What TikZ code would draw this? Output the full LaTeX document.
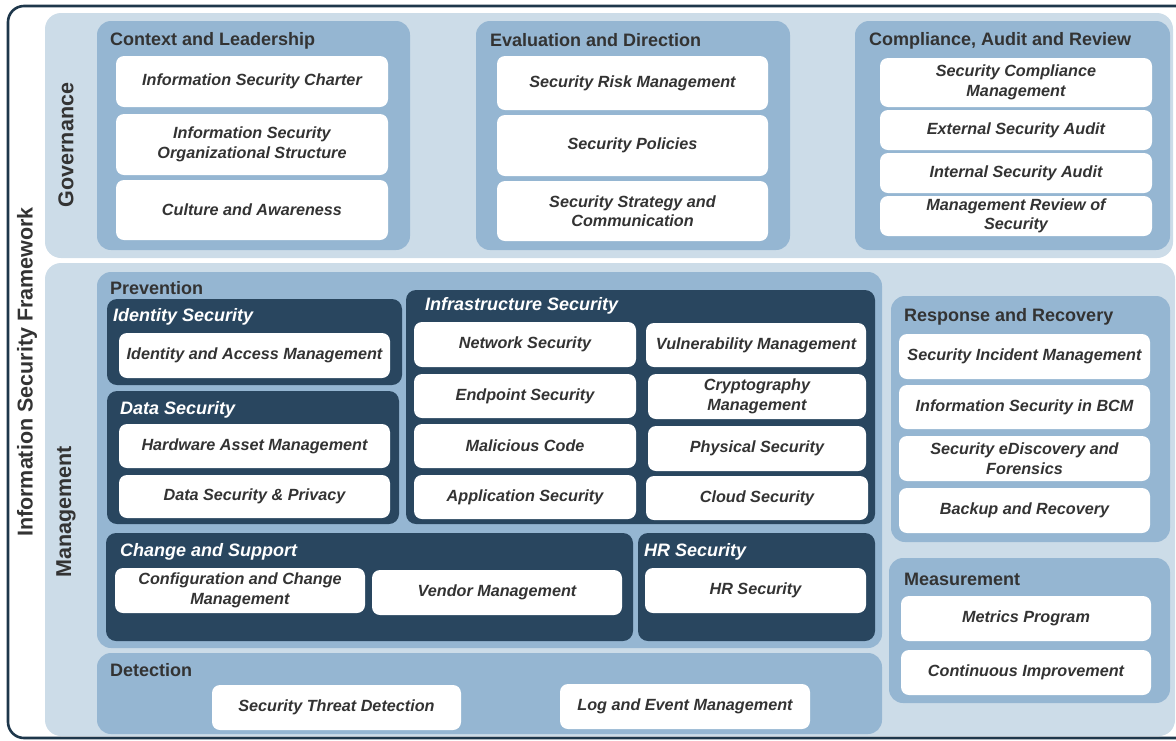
\documentclass[tikz,border=0pt]{standalone}
\usepackage{fontspec}
\setmainfont{Liberation Sans}
\usetikzlibrary{positioning}
\definecolor{frameC}{HTML}{1E374B}
\definecolor{bandC}{HTML}{CCDCE8}
\definecolor{grpC}{HTML}{95B6D2}
\definecolor{darkC}{HTML}{29465F}
\definecolor{txtC}{HTML}{333333}
\tikzset{
    band/.style={rectangle, fill=bandC, rounded corners=16pt, inner sep=0pt},
    grp/.style={rectangle, fill=grpC, rounded corners=14pt, inner sep=0pt},
    dark/.style={rectangle, fill=darkC, rounded corners=10pt, inner sep=0pt},
    cell/.style={rectangle, fill=white, rounded corners=8pt, inner sep=0pt, align=center, text=txtC, font=\fontsize{16.2}{19.5}\selectfont\bfseries\itshape},
    head/.style={anchor=west, inner sep=0pt, text=txtC, font=\fontsize{18}{20}\selectfont\bfseries},
    darkHead/.style={anchor=west, inner sep=0pt, text=white, font=\fontsize{18}{20}\selectfont\bfseries\itshape},
    side/.style={rotate=90, inner sep=0pt, text=txtC, font=\fontsize{21.5}{24}\selectfont\bfseries},
}
\newcommand{\drawPanel}[6][grp]{
    \node[#1, minimum width={#5-#3}, minimum height={#6-#4}] (#2) at ({(#3+#5)/2}, {(#4+#6)/2}) {};
}
\newcommand{\drawCell}[6]{
    \node[cell, minimum width={#4-#2}, minimum height={#5-#3}] (#1) at ({(#2+#4)/2}, {(#3+#5)/2}) {#6};
}
\begin{document}
\begin{tikzpicture}[x=1pt, y=-1pt]
    \useasboundingbox (0,0) rectangle (1176,740);
    \clip (0,0) rectangle (1176,740);

    % frame and bands
    \draw[frameC, line width=2.6pt, rounded corners=16pt] (8,6) rectangle (1210,738);
    \drawPanel[band]{gov}{45}{13}{1173}{258}
    \drawPanel[band]{mgmt}{45}{263}{1175}{736}
    \node[side] (isf) at (27,372) {Information Security Framework};
    \node[side] (govL) at (66,145) {Governance};
    \node[side] (mgmtL) at (66,512) {Management};

    % governance
    \drawPanel{ctx}{97}{21}{410}{250}
    \node[head] (ctxH) at (110,40.5) {Context and Leadership};
    \drawCell{ctxA}{116}{56}{388}{107}{Information Security Charter}
    \drawCell{ctxB}{116}{114}{388}{175}{Information Security\\Organizational Structure}
    \drawCell{ctxC}{116}{180}{388}{240}{Culture and Awareness}

    \drawPanel{eva}{476}{21}{790}{250}
    \node[head] (evaH) at (490,40.5) {Evaluation and Direction};
    \drawCell{evaA}{497}{56}{768}{110}{Security Risk Management}
    \drawCell{evaB}{497}{115}{768}{176}{Security Policies}
    \drawCell{evaC}{497}{181}{768}{241}{Security Strategy and\\Communication}

    \drawPanel{cmp}{855}{21}{1170}{250}
    \node[head] (cmpH) at (869,40.5) {Compliance, Audit and Review};
    \drawCell{cmpA}{880}{58}{1152}{107}{Security Compliance\\Management}
    \drawCell{cmpB}{880}{110}{1152}{150}{External Security Audit}
    \drawCell{cmpC}{880}{153}{1152}{193}{Internal Security Audit}
    \drawCell{cmpD}{880}{196}{1152}{236}{Management Review of\\Security}

    % prevention
    \drawPanel{prev}{97}{272}{882}{648}
    \node[head] (prevH) at (110,288) {Prevention};

    \drawPanel[dark]{ids}{107}{299}{402}{385}
    \node[darkHead] (idsH) at (113,317) {Identity Security};
    \drawCell{idsA}{119}{333}{390}{378}{Identity and Access Management}

    \drawPanel[dark]{dat}{107}{391}{399}{524}
    \node[darkHead] (datH) at (120,410) {Data Security};
    \drawCell{datA}{119}{424}{390}{468}{Hardware Asset Management}
    \drawCell{datB}{119}{475}{390}{518}{Data Security \& Privacy}

    \drawPanel[dark]{inf}{406}{290}{875}{524}
    \node[darkHead] (infH) at (425,306) {Infrastructure Security};
    \drawCell{infA}{414}{322}{636}{367}{Network Security}
    \drawCell{infB}{414}{374}{636}{418}{Endpoint Security}
    \drawCell{infC}{414}{424}{636}{468}{Malicious Code}
    \drawCell{infD}{414}{475}{636}{519}{Application Security}
    \drawCell{infE}{646}{323}{866}{367}{Vulnerability Management}
    \drawCell{infF}{648}{374}{866}{419}{Cryptography\\Management}
    \drawCell{infG}{648}{426}{866}{471}{Physical Security}
    \drawCell{infH}{646}{476}{868}{520}{Cloud Security}

    \drawPanel[dark]{chg}{106}{533}{633}{641}
    \node[darkHead] (chgH) at (120,552) {Change and Support};
    \drawCell{chgA}{115}{568}{365}{613}{Configuration and Change\\Management}
    \drawCell{chgB}{372}{570}{622}{615}{Vendor Management}

    \drawPanel[dark]{hrs}{638}{533}{875}{641}
    \node[darkHead] (hrsH) at (644,552) {HR Security};
    \drawCell{hrsA}{645}{568}{866}{613}{HR Security}

    % detection
    \drawPanel{det}{97}{653}{882}{734}
    \node[head] (detH) at (110,670) {Detection};
    \drawCell{detA}{212}{685}{461}{730}{Security Threat Detection}
    \drawCell{detB}{560}{684}{810}{729}{Log and Event Management}

    % response and measurement
    \drawPanel{rsp}{891}{296}{1170}{542}
    \node[head] (rspH) at (904,317) {Response and Recovery};
    \drawCell{rspA}{899}{334}{1150}{379}{Security Incident Management}
    \drawCell{rspB}{899}{385}{1150}{429}{Information Security in BCM}
    \drawCell{rspC}{899}{436}{1150}{481}{Security eDiscovery and\\Forensics}
    \drawCell{rspD}{899}{488}{1150}{533}{Backup and Recovery}

    \drawPanel{msr}{889}{558}{1170}{703}
    \node[head] (msrH) at (904,579) {Measurement};
    \drawCell{msrA}{901}{596}{1151}{641}{Metrics Program}
    \drawCell{msrB}{901}{650}{1151}{695}{Continuous Improvement}

\end{tikzpicture}
\end{document}
